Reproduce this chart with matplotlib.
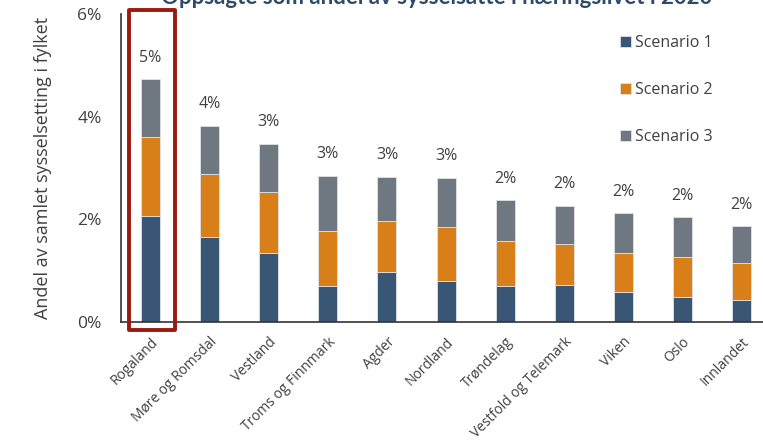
import matplotlib
matplotlib.use("Agg")
import matplotlib.pyplot as plt
from matplotlib.patches import Rectangle
import numpy as np

plt.rcParams['font.family'] = ['Open Sans', 'DejaVu Sans']

# data (% of employment)
fylker = ["Rogaland", "Møre og Romsdal", "Vestland", "Troms og Finnmark", "Agder",
          "Nordland", "Trøndelag", "Vestfold og Telemark", "Viken", "Oslo", "Innlandet"]
total = [4.73, 3.83, 3.47, 2.85, 2.83, 2.81, 2.37, 2.27, 2.12, 2.04, 1.87]
top_s2 = [3.60, 2.89, 2.53, 1.78, 1.96, 1.85, 1.57, 1.53, 1.34, 1.26, 1.15]
scenario1 = [2.07, 1.66, 1.35, 0.71, 0.98, 0.80, 0.71, 0.73, 0.58, 0.48, 0.43]
scenario2 = [a - b for a, b in zip(top_s2, scenario1)]
scenario3 = [a - b for a, b in zip(total, top_s2)]
labels = ["5%", "4%", "3%", "3%", "3%", "3%", "2%", "2%", "2%", "2%", "2%"]

blue = "#3a5675"
orange = "#d97f1a"
grey = "#6f7881"
txt = "#404040"

fig = plt.figure(figsize=(7.63, 4.41), dpi=100)
ax = fig.add_axes([0.1586, 0.2698, 0.852, 0.698])

x = np.arange(len(fylker))
w = 0.32
ax.bar(x, scenario1, w, color=blue, edgecolor="#dfe3e8", linewidth=0.6, label="Scenario 1")
ax.bar(x, scenario2, w, bottom=scenario1, color=orange, edgecolor="#dfe3e8", linewidth=0.6, label="Scenario 2")
ax.bar(x, scenario3, w, bottom=top_s2, color=grey, edgecolor="#dfe3e8", linewidth=0.6, label="Scenario 3")

for xi, t, lab in zip(x, total, labels):
    ax.text(xi, t + 0.42, lab, ha="center", va="center", fontsize=11.5, color=txt)

ax.set_xlim(-0.5, 10.5)
ax.set_ylim(0, 6)
ax.set_yticks([0, 2, 4, 6])
ax.set_yticklabels(["0%", "2%", "4%", "6%"], fontsize=12.5, color=txt)
ax.tick_params(axis="y", length=0, pad=14)
ax.set_xticks(x)
ax.set_xticklabels(fylker, rotation=45, ha="right", rotation_mode="anchor",
                   fontsize=10, color=txt)
ax.tick_params(axis="x", length=0, pad=9)
for s in ["top", "right"]:
    ax.spines[s].set_visible(False)
ax.spines["left"].set_color("#333333")
ax.spines["bottom"].set_color("#333333")
ax.spines["left"].set_linewidth(1.2)
ax.spines["bottom"].set_linewidth(1.2)

ax.set_ylabel("Andel av samlet sysselsetting i fylket", fontsize=13, color=txt, labelpad=18)

# highlight box around Rogaland
ax.add_patch(Rectangle((-0.37, -0.16), 0.79, 6.24, fill=False, edgecolor="#9b1a0e",
                       linewidth=2.8, clip_on=False, joinstyle="round", zorder=5))

leg = ax.legend(loc="upper left", bbox_to_anchor=(0.745, 0.98), frameon=False,
                fontsize=11.5, labelspacing=1.95, handlelength=0.7, handleheight=0.7,
                handletextpad=0.25, labelcolor=txt)

fig.text(0.572, 1.0 - 4 / 441, "Oppsagte som andel av sysselsatte i næringslivet i 2020",
         ha="center", va="baseline", fontsize=16, fontweight="bold", color="#2e4a6b",
         family="Lato")

fig.savefig("out.png", dpi=100)
